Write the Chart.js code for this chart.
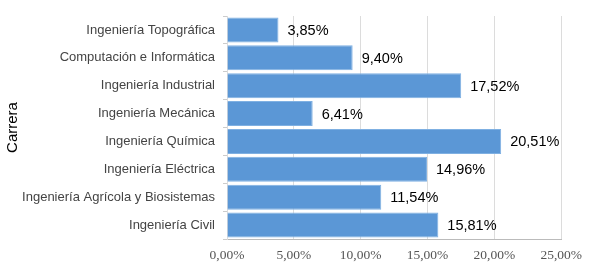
<!DOCTYPE html>
<html>
<head>
<meta charset="utf-8">
<script src="https://cdn.jsdelivr.net/npm/chart.js@4"></script>
<style>
  html, body { margin: 0; padding: 0; background: #fff; }
  #wrap { width: 590px; height: 264px; position: relative; }
</style>
</head>
<body>
<div id="wrap"><canvas id="myChart"></canvas></div>
<script>
// Datos del gráfico
const carreras = [
  'Ingeniería Topográfica',
  'Computación e Informática',
  'Ingeniería Industrial',
  'Ingeniería Mecánica',
  'Ingeniería Química',
  'Ingeniería Eléctrica',
  'Ingeniería Agrícola y Biosistemas',
  'Ingeniería Civil'
];
const porcentajes = [3.85, 9.40, 17.52, 6.41, 20.51, 14.96, 11.54, 15.81];
const ticksX = [0, 5, 10, 15, 20, 25];

const fmt = (v) => v.toFixed(2).replace('.', ',') + '%';

// etiquetas al final de cada barra
const etiquetas = {
  id: 'etiquetas',
  afterDatasetsDraw(chart) {
    const ctx = chart.ctx;
    const meta = chart.getDatasetMeta(0);
    ctx.save();
    ctx.font = '14.5px "Liberation Sans", Arial, sans-serif';
    ctx.fillStyle = '#000';
    ctx.textBaseline = 'middle';
    ctx.textAlign = 'left';
    meta.data.forEach((bar, i) => {
      ctx.fillText(fmt(porcentajes[i]), bar.x + 9, bar.y + 1);
    });
    ctx.restore();
  }
};

const ctx = document.getElementById('myChart').getContext('2d');
new Chart(ctx, {
  type: 'bar',
  data: {
    labels: carreras,
    datasets: [{
      data: porcentajes,
      backgroundColor: '#5b97d6',
      borderColor: '#7fb0e2',
      borderWidth: 1,
      barPercentage: 0.9,
      categoryPercentage: 1
    }]
  },
  options: {
    indexAxis: 'y',
    responsive: true,
    maintainAspectRatio: false,
    animation: false,
    layout: { padding: { top: 16, right: 27, left: 0, bottom: 0 } },
    plugins: { legend: { display: false }, tooltip: { enabled: false } },
    scales: {
      x: {
        min: 0,
        max: 25,
        afterBuildTicks: (s) => { s.ticks = ticksX.map(v => ({ value: v })); },
        afterFit: (s) => { s.height = 25; },
        grid: { color: '#dcdcdc', drawTicks: false },
        border: { color: '#bbb' },
        ticks: {
          padding: 8,
          color: '#555',
          font: { family: '"Liberation Serif", "Times New Roman", serif', size: 13.5 },
          callback: (v) => fmt(v)
        }
      },
      y: {
        afterFit: (s) => { s.width = 227; },
        grid: { drawOnChartArea: false, tickLength: 4, color: '#ccc' },
        border: { color: '#ddd' },
        title: {
          display: true,
          text: 'Carrera',
          color: '#000',
          padding: { top: 4, bottom: 0 },
          font: { family: '"Liberation Sans", Arial, sans-serif', size: 15 }
        },
        ticks: {
          padding: 8,
          color: '#444',
          font: { family: '"Liberation Sans", Arial, sans-serif', size: 13 }
        }
      }
    }
  },
  plugins: [etiquetas]
});
</script>
</body>
</html>
